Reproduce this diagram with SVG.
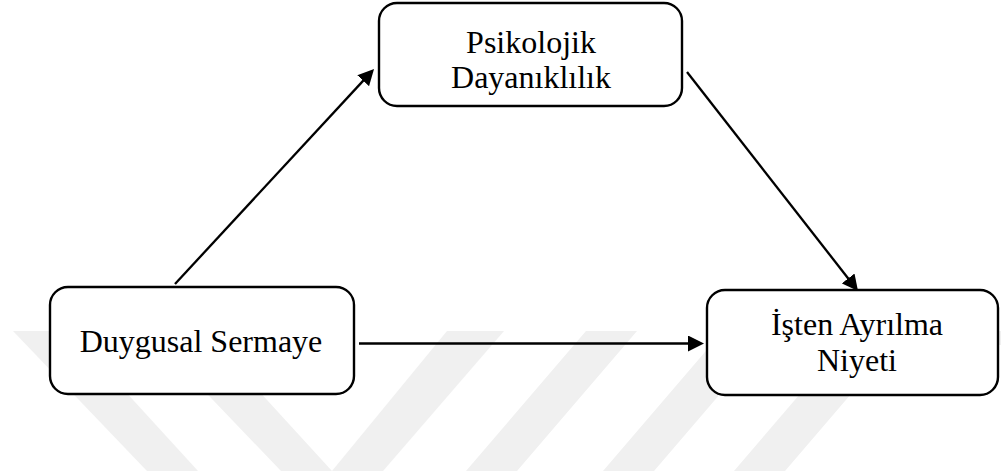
<svg xmlns="http://www.w3.org/2000/svg" width="1001" height="471" viewBox="0 0 1001 471">
  <style>
    .box { fill: #ffffff; stroke: #000000; stroke-width: 2.4; }
    .label { font-family: "Liberation Serif", "Times New Roman", serif; font-size: 32px; fill: #000000; text-anchor: middle; }
    .edge { fill: none; stroke: #000000; stroke-width: 2.3; marker-end: url(#arrow); }
    .wm { fill: #f0f0f0; }
  </style>
  <defs>
    <marker id="arrow" viewBox="0 0 16 16" refX="8" refY="8" markerWidth="16" markerHeight="16" markerUnits="userSpaceOnUse" orient="auto">
      <path d="M0,0 L16,8 L0,16 z" fill="#000000"/>
    </marker>
  </defs>

  <!-- faint background stripes -->
  <g id="background">
    <polygon class="wm" points="13,331 70,331 198,471 147,471"/>
    <polygon class="wm" points="147,331 204,331 332,471 281,471"/>
    <polygon class="wm" points="447,331 504,331 383,471 332,471"/>
    <polygon class="wm" points="586,331 637,331 517,471 466,471"/>
    <polygon class="wm" points="723,331 774,331 654,471 603,471"/>
    <polygon class="wm" points="854,331 905,331 785,471 734,471"/>
    <polygon class="wm" points="967,331 1001,331 1001,345 955,345"/>
  </g>

  <!-- connectors -->
  <g id="connectors">
    <path class="edge" d="M175,284 L368.6,74.9"/>
    <path class="edge" d="M687,72 L853.1,284.7"/>
    <path class="edge" d="M359,343.5 L696,343.5"/>
  </g>

  <g id="node-psikolojik">
    <rect class="box" x="379" y="3" width="303" height="103" rx="18" ry="18"/>
    <text class="label" x="531" y="53">Psikolojik</text>
    <text class="label" x="531" y="88">Dayanıklılık</text>
  </g>

  <g id="node-duygusal">
    <rect class="box" x="50" y="287" width="304" height="107" rx="18" ry="18"/>
    <text class="label" x="201" y="352">Duygusal Sermaye</text>
  </g>

  <g id="node-isten">
    <rect class="box" x="707" y="290" width="291" height="105" rx="18" ry="18"/>
    <text class="label" x="857" y="335">İşten Ayrılma</text>
    <text class="label" x="857" y="371">Niyeti</text>
  </g>
</svg>
